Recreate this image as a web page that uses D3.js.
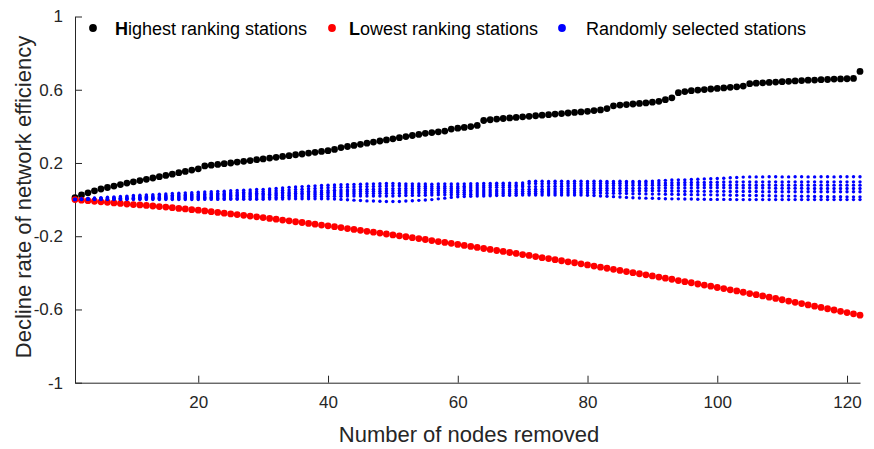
<!DOCTYPE html>
<html>
<head>
<meta charset="utf-8">
<script src="https://cdn.jsdelivr.net/npm/d3@7/dist/d3.min.js"></script>
<style>
  html, body { margin: 0; padding: 0; background: #fff; }
  svg { display: block; font-family: "Liberation Sans", Arial, Helvetica, sans-serif; }
</style>
</head>
<body>
<svg id="chart" width="874" height="449"></svg>
<script>
// ---------------- data ----------------
const xTickValues = [20, 40, 60, 80, 100, 120];
const xTickLabels = ["20", "40", "60", "80", "100", "120"];
const yTickValues = [-1, -0.6, -0.2, 0.2, 0.6, 1];
const yTickLabels = ["-1", "-0.6", "-0.2", "0.2", "0.6", "1"];

const seriesNames = ["Highest ranking stations", "Lowest ranking stations", "Randomly selected stations"];
const seriesColors = ["#000000", "#ff0000", "#0000ff"];

// Highest ranking stations removed (nodes 1..122)
const highest = [
  0.010, 0.025, 0.037, 0.048, 0.058, 0.066, 0.074, 0.082, 0.090, 0.097,
  0.104, 0.111, 0.118, 0.125, 0.132, 0.139, 0.147, 0.154, 0.161, 0.168,
  0.184, 0.188, 0.192, 0.196, 0.200, 0.205, 0.209, 0.213, 0.218, 0.222,
  0.227, 0.231, 0.236, 0.240, 0.245, 0.249, 0.254, 0.258, 0.263, 0.267,
  0.274, 0.284, 0.290, 0.296, 0.302, 0.308, 0.314, 0.320, 0.326, 0.332,
  0.338, 0.344, 0.350, 0.356, 0.362, 0.366, 0.370, 0.374, 0.385, 0.390,
  0.394, 0.399, 0.405, 0.432, 0.436, 0.440, 0.443, 0.446, 0.449, 0.452,
  0.455, 0.458, 0.461, 0.464, 0.467, 0.470, 0.473, 0.476, 0.479, 0.482,
  0.486, 0.490, 0.497, 0.512, 0.516, 0.519, 0.522, 0.525, 0.528, 0.532,
  0.537, 0.546, 0.556, 0.584, 0.590, 0.595, 0.598, 0.601, 0.604, 0.607,
  0.610, 0.613, 0.616, 0.620, 0.633, 0.636, 0.638, 0.640, 0.642, 0.644,
  0.646, 0.648, 0.650, 0.652, 0.653, 0.655, 0.656, 0.658, 0.659, 0.660,
  0.662, 0.700
];

// Lowest ranking stations removed
const lowest = [
  0.000, -0.003, -0.006, -0.009, -0.012, -0.015, -0.018, -0.021, -0.024, -0.027,
  -0.029, -0.032, -0.035, -0.038, -0.041, -0.044, -0.048, -0.051, -0.055, -0.058,
  -0.062, -0.066, -0.070, -0.074, -0.078, -0.082, -0.086, -0.090, -0.094, -0.098,
  -0.103, -0.107, -0.112, -0.116, -0.121, -0.125, -0.130, -0.134, -0.139, -0.143,
  -0.148, -0.153, -0.158, -0.163, -0.168, -0.173, -0.178, -0.183, -0.188, -0.193,
  -0.198, -0.203, -0.208, -0.213, -0.218, -0.224, -0.229, -0.234, -0.239, -0.245,
  -0.250, -0.256, -0.261, -0.267, -0.272, -0.278, -0.283, -0.289, -0.294, -0.300,
  -0.305, -0.311, -0.317, -0.322, -0.328, -0.334, -0.340, -0.345, -0.351, -0.357,
  -0.363, -0.369, -0.375, -0.381, -0.387, -0.393, -0.399, -0.405, -0.411, -0.417,
  -0.423, -0.429, -0.435, -0.442, -0.448, -0.454, -0.461, -0.467, -0.473, -0.480,
  -0.486, -0.493, -0.499, -0.506, -0.513, -0.519, -0.526, -0.533, -0.540, -0.547,
  -0.554, -0.561, -0.568, -0.575, -0.582, -0.589, -0.596, -0.603, -0.610, -0.617,
  -0.624, -0.631
];

// Randomly selected stations: several random removal runs
const randomRunA = [
  0.002, 0.004, 0.006, 0.009, 0.011, 0.013, 0.015, 0.017, 0.019, 0.022,
  0.024, 0.025, 0.027, 0.029, 0.031, 0.033, 0.035, 0.037, 0.038, 0.040,
  0.042, 0.043, 0.045, 0.046, 0.048, 0.050, 0.051, 0.053, 0.055, 0.056,
  0.058, 0.061, 0.064, 0.067, 0.069, 0.071, 0.073, 0.075, 0.077, 0.078,
  0.080, 0.081, 0.082, 0.083, 0.084, 0.085, 0.086, 0.087, 0.088, 0.088,
  0.087, 0.086, 0.086, 0.085, 0.085, 0.084, 0.085, 0.086, 0.085, 0.085,
  0.086, 0.087, 0.087, 0.088, 0.088, 0.089, 0.089, 0.090, 0.090, 0.091,
  0.099, 0.100, 0.100, 0.099, 0.100, 0.100, 0.099, 0.100, 0.100, 0.099,
  0.100, 0.100, 0.099, 0.099, 0.100, 0.099, 0.099, 0.099, 0.100, 0.101,
  0.103, 0.105, 0.107, 0.108, 0.108, 0.110, 0.111, 0.113, 0.114, 0.115,
  0.117, 0.119, 0.121, 0.123, 0.124, 0.124, 0.124, 0.125, 0.125, 0.124,
  0.124, 0.125, 0.125, 0.124, 0.124, 0.125, 0.125, 0.124, 0.125, 0.125,
  0.125, 0.125
];
const randomRunB = [
  0.001, 0.003, 0.005, 0.006, 0.008, 0.009, 0.011, 0.012, 0.014, 0.015,
  0.017, 0.018, 0.020, 0.021, 0.023, 0.024, 0.026, 0.027, 0.029, 0.030,
  0.031, 0.033, 0.034, 0.036, 0.037, 0.039, 0.040, 0.042, 0.043, 0.045,
  0.047, 0.049, 0.051, 0.053, 0.055, 0.057, 0.059, 0.061, 0.063, 0.065,
  0.066, 0.067, 0.068, 0.069, 0.070, 0.071, 0.072, 0.073, 0.074, 0.075,
  0.075, 0.074, 0.074, 0.073, 0.073, 0.072, 0.072, 0.073, 0.072, 0.072,
  0.073, 0.074, 0.075, 0.076, 0.077, 0.078, 0.078, 0.079, 0.079, 0.080,
  0.088, 0.088, 0.087, 0.088, 0.088, 0.087, 0.088, 0.088, 0.087, 0.088,
  0.088, 0.088, 0.089, 0.089, 0.089, 0.090, 0.090, 0.090, 0.090, 0.090,
  0.091, 0.091, 0.092, 0.092, 0.093, 0.093, 0.094, 0.094, 0.095, 0.095,
  0.096, 0.096, 0.097, 0.097, 0.097, 0.096, 0.097, 0.097, 0.097, 0.096,
  0.097, 0.097, 0.096, 0.097, 0.097, 0.097, 0.096, 0.097, 0.097, 0.097,
  0.097, 0.097
];
const randomRunC = [
  0.001, 0.002, 0.003, 0.004, 0.005, 0.006, 0.007, 0.008, 0.009, 0.010,
  0.011, 0.013, 0.014, 0.016, 0.017, 0.019, 0.020, 0.022, 0.023, 0.025,
  0.026, 0.027, 0.028, 0.029, 0.030, 0.031, 0.032, 0.033, 0.034, 0.035,
  0.037, 0.038, 0.040, 0.041, 0.043, 0.044, 0.046, 0.047, 0.049, 0.050,
  0.051, 0.052, 0.053, 0.054, 0.055, 0.056, 0.057, 0.058, 0.059, 0.060,
  0.060, 0.061, 0.061, 0.061, 0.062, 0.061, 0.062, 0.062, 0.061, 0.062,
  0.063, 0.064, 0.064, 0.065, 0.066, 0.067, 0.067, 0.068, 0.069, 0.070,
  0.071, 0.071, 0.072, 0.072, 0.073, 0.073, 0.074, 0.074, 0.075, 0.075,
  0.076, 0.076, 0.076, 0.077, 0.077, 0.077, 0.078, 0.078, 0.078, 0.078,
  0.079, 0.079, 0.079, 0.080, 0.080, 0.080, 0.080, 0.080, 0.080, 0.080,
  0.080, 0.079, 0.080, 0.079, 0.080, 0.079, 0.079, 0.080, 0.079, 0.079,
  0.079, 0.079, 0.079, 0.079, 0.079, 0.079, 0.079, 0.079, 0.079, 0.079,
  0.079, 0.079
];
const randomRunD = [
  0.000, 0.001, 0.002, 0.003, 0.004, 0.004, 0.005, 0.006, 0.007, 0.008,
  0.009, 0.010, 0.011, 0.012, 0.013, 0.014, 0.015, 0.016, 0.017, 0.018,
  0.019, 0.020, 0.021, 0.022, 0.023, 0.024, 0.025, 0.026, 0.027, 0.028,
  0.029, 0.030, 0.032, 0.033, 0.034, 0.035, 0.036, 0.038, 0.039, 0.040,
  0.041, 0.042, 0.043, 0.043, 0.044, 0.045, 0.046, 0.046, 0.047, 0.048,
  0.048, 0.049, 0.049, 0.049, 0.050, 0.050, 0.050, 0.050, 0.050, 0.050,
  0.051, 0.051, 0.052, 0.052, 0.053, 0.053, 0.054, 0.054, 0.055, 0.055,
  0.056, 0.057, 0.057, 0.058, 0.059, 0.059, 0.060, 0.061, 0.061, 0.062,
  0.062, 0.062, 0.062, 0.062, 0.062, 0.062, 0.062, 0.062, 0.062, 0.062,
  0.063, 0.063, 0.063, 0.064, 0.064, 0.064, 0.065, 0.065, 0.065, 0.065,
  0.065, 0.064, 0.064, 0.064, 0.063, 0.063, 0.063, 0.063, 0.062, 0.062,
  0.062, 0.062, 0.062, 0.061, 0.061, 0.061, 0.061, 0.061, 0.061, 0.061,
  0.061, 0.061
];
const randomRunE = [
  0.000, 0.001, 0.001, 0.002, 0.002, 0.003, 0.003, 0.004, 0.004, 0.005,
  0.006, 0.006, 0.007, 0.008, 0.008, 0.009, 0.010, 0.010, 0.011, 0.012,
  0.013, 0.013, 0.014, 0.015, 0.016, 0.016, 0.017, 0.018, 0.019, 0.020,
  0.021, 0.022, 0.023, 0.024, 0.025, 0.026, 0.027, 0.028, 0.029, 0.030,
  0.030, 0.031, 0.031, 0.032, 0.032, 0.033, 0.033, 0.034, 0.034, 0.035,
  0.035, 0.036, 0.036, 0.037, 0.037, 0.038, 0.038, 0.039, 0.039, 0.040,
  0.040, 0.041, 0.041, 0.042, 0.042, 0.043, 0.043, 0.044, 0.044, 0.045,
  0.045, 0.046, 0.046, 0.047, 0.047, 0.048, 0.048, 0.049, 0.049, 0.050,
  0.050, 0.050, 0.050, 0.049, 0.049, 0.049, 0.049, 0.048, 0.048, 0.048,
  0.048, 0.047, 0.047, 0.047, 0.046, 0.046, 0.046, 0.045, 0.045, 0.045,
  0.045, 0.044, 0.044, 0.044, 0.044, 0.044, 0.043, 0.043, 0.043, 0.043,
  0.043, 0.043, 0.043, 0.043, 0.043, 0.043, 0.043, 0.043, 0.043, 0.043,
  0.043, 0.043
];
const randomRunF = [
  0.000, 0.000, 0.001, 0.001, 0.001, 0.002, 0.002, 0.002, 0.003, 0.003,
  0.003, 0.004, 0.004, 0.004, 0.005, 0.005, 0.005, 0.006, 0.006, 0.006,
  0.007, 0.007, 0.007, 0.008, 0.008, 0.008, 0.009, 0.009, 0.009, 0.010,
  0.011, 0.012, 0.013, 0.014, 0.015, 0.015, 0.016, 0.017, 0.017, 0.018,
  0.018, 0.018, 0.019, 0.019, 0.019, 0.019, 0.020, 0.020, 0.020, 0.020,
  0.021, 0.022, 0.023, 0.023, 0.024, 0.025, 0.026, 0.026, 0.027, 0.028,
  0.029, 0.029, 0.030, 0.031, 0.031, 0.032, 0.033, 0.033, 0.034, 0.035,
  0.035, 0.035, 0.036, 0.036, 0.036, 0.037, 0.037, 0.037, 0.038, 0.038,
  0.037, 0.036, 0.035, 0.035, 0.034, 0.033, 0.032, 0.032, 0.031, 0.030,
  0.030, 0.029, 0.029, 0.028, 0.028, 0.027, 0.027, 0.026, 0.026, 0.025,
  0.025, 0.024, 0.024, 0.023, 0.022, 0.022, 0.021, 0.021, 0.020, 0.020,
  0.019, 0.019, 0.018, 0.018, 0.017, 0.017, 0.016, 0.016, 0.016, 0.015,
  0.015, 0.015
];
const randomRunG = [
  0.000, 0.000, 0.000, 0.000, 0.000, 0.000, 0.000, 0.000, 0.000, 0.000,
  0.000, 0.000, 0.000, 0.000, 0.000, 0.000, 0.000, 0.000, 0.000, 0.000,
  0.001, 0.001, 0.001, 0.001, 0.002, 0.002, 0.002, 0.002, 0.002, 0.002,
  0.003, 0.003, 0.003, 0.004, 0.004, 0.004, 0.005, 0.005, 0.005, 0.005,
  0.003, 0.001, -0.001, -0.003, -0.005, -0.007, -0.008, -0.009, -0.010, -0.010,
  -0.010, -0.008, -0.006, -0.004, -0.002, 0.000, 0.004, 0.008, 0.012, 0.015,
  0.017, 0.018, 0.019, 0.020, 0.021, 0.022, 0.023, 0.024, 0.024, 0.025,
  0.025, 0.025, 0.025, 0.025, 0.025, 0.025, 0.025, 0.025, 0.025, 0.024,
  0.022, 0.020, 0.018, 0.016, 0.014, 0.012, 0.010, 0.009, 0.008, 0.007,
  0.006, 0.005, 0.004, 0.004, 0.003, 0.003, 0.002, 0.002, 0.001, 0.001,
  0.001, 0.001, 0.000, 0.000, 0.000, 0.000, 0.000, 0.000, 0.000, 0.000,
  0.000, 0.000, 0.000, 0.000, 0.000, 0.000, 0.000, 0.000, 0.000, 0.000,
  0.000, 0.000
];
const randomRuns = [randomRunA, randomRunB, randomRunC, randomRunD, randomRunE, randomRunF, randomRunG];

// ---------------- chart ----------------
const svg = d3.select("#chart");
const axisColor = "#262626";
const plotLeft = 75, plotRight = 860, plotTop = 16.5, plotBottom = 382.7;

const x = d3.scaleLinear().domain([1, 122]).range([plotLeft, plotRight]);
const y = d3.scaleLinear().domain([-1, 1]).range([plotBottom, plotTop]);

const xAxis = d3.axisBottom(x)
  .tickValues(xTickValues)
  .tickFormat((d, i) => xTickLabels[i])
  .tickSizeInner(-7).tickSizeOuter(0).tickPadding(13);
const yAxis = d3.axisLeft(y)
  .tickValues(yTickValues)
  .tickFormat((d, i) => yTickLabels[i])
  .tickSizeInner(-7).tickSizeOuter(0).tickPadding(12);

const gx = svg.append("g").attr("transform", `translate(0,${plotBottom})`).call(xAxis);
const gy = svg.append("g").attr("transform", `translate(${plotLeft},0)`).call(yAxis);
[gx, gy].forEach(g => {
  g.selectAll("path.domain").attr("stroke", axisColor).attr("stroke-width", 1);
  g.selectAll(".tick line").attr("stroke", axisColor).attr("stroke-width", 1);
  g.selectAll(".tick text").attr("fill", axisColor)
    .style("font-size", "17px").style("font-family", "'Liberation Sans', Arial, sans-serif");
});

// axis titles
svg.append("text")
  .attr("x", 469).attr("y", 442)
  .attr("text-anchor", "middle").attr("fill", axisColor)
  .style("font-size", "22px")
  .text("Number of nodes removed");
svg.append("text")
  .attr("transform", `translate(31,197) rotate(-90)`)
  .attr("text-anchor", "middle").attr("fill", axisColor)
  .style("font-size", "22px")
  .text("Decline rate of network efficiency");

const idx = d3.range(1, 123);

// Highest ranking
svg.append("g").selectAll("circle").data(highest).join("circle")
  .attr("cx", (d, i) => x(idx[i])).attr("cy", d => y(d))
  .attr("r", 3.4).attr("fill", seriesColors[0]);

// Lowest ranking
svg.append("g").selectAll("circle").data(lowest).join("circle")
  .attr("cx", (d, i) => x(idx[i])).attr("cy", d => y(d))
  .attr("r", 3.4).attr("fill", seriesColors[1]);

// Random runs
const gr = svg.append("g");
randomRuns.forEach(run => {
  gr.append("g").selectAll("circle").data(run).join("circle")
    .attr("cx", (d, i) => x(idx[i])).attr("cy", d => y(d))
    .attr("r", 1.7).attr("fill", seriesColors[2]);
});

// legend
const legendItems = [
  { bold: "H", rest: "ighest ranking stations", color: seriesColors[0], dx: 93, tx: 115 },
  { bold: "L", rest: "owest ranking stations", color: seriesColors[1], dx: 332, tx: 349 },
  { bold: "", rest: "Randomly selected stations", color: seriesColors[2], dx: 562, tx: 586 }
];
const lg = svg.append("g");
legendItems.forEach(it => {
  lg.append("circle").attr("cx", it.dx).attr("cy", 28).attr("r", 3.9).attr("fill", it.color);
  const t = lg.append("text").attr("x", it.tx).attr("y", 34.5).attr("fill", "#000").style("font-size", "18px");
  if (it.bold) t.append("tspan").style("font-weight", "bold").text(it.bold);
  t.append("tspan").text(it.rest);
});
</script>
</body>
</html>
